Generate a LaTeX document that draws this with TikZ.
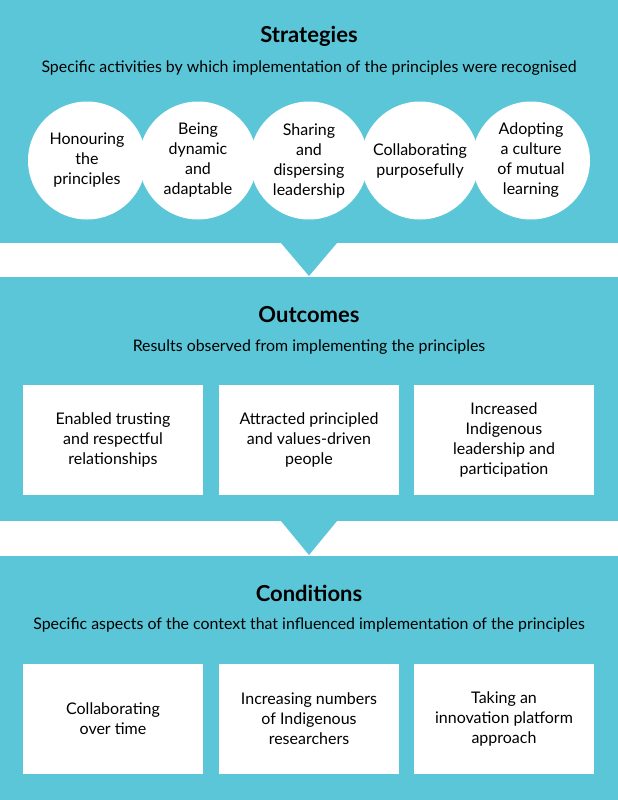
\documentclass[tikz,border=0pt]{standalone}
\usepackage{fontspec}
\setmainfont{Lato}
\usepackage{xcolor}

\definecolor{panelcyan}{HTML}{5BC6D8}

\tikzset{
  heading/.style={font=\fontsize{22}{26}\selectfont\bfseries, text=black},
  subline/.style={font=\fontsize{15.9}{19}\selectfont, text=black},
  bubble/.style={circle, fill=white, minimum size=118pt, inner sep=0pt, align=center,
    font=\fontsize{16}{20}\selectfont},
  card/.style={rectangle, fill=white, minimum width=180pt, minimum height=110pt, inner sep=0pt,
    align=center, font=\fontsize{16}{20}\selectfont},
}

\begin{document}
\begin{tikzpicture}[x=1pt, y=-1pt]

% Fondo
\fill[panelcyan] (0,0) rectangle (618,800);
\useasboundingbox (0,0) rectangle (618,800);

% Bandas blancas con flechas
\fill[white] (0,243) rectangle (618,277);
\fill[panelcyan] (281,243) -- (337,243) -- (309,276) -- cycle;
\fill[white] (0,521) rectangle (618,556);
\fill[panelcyan] (281,521) -- (337,521) -- (309,555) -- cycle;

% Estrategias
\node[heading] (StratTitle) at (309,36) {Strategies};
\node[subline] (StratSub) at (309,68) {Specific activities by which implementation of the principles were recognised};

\node[bubble] (Honour) at (87,160.5) {Honouring\\the\\principles};
\node[bubble] (Dynamic) at (198,160.5) {Being\\dynamic\\and\\adaptable};
\node[bubble] (Sharing) at (309,160.5) {Sharing\\and\\dispersing\\leadership};
\node[bubble] (Collab) at (420,160.5) {Collaborating\\purposefully};
\node[bubble] (Mutual) at (531,160.5) {Adopting\\a culture\\of mutual\\learning};

% Resultados
\node[heading] (OutTitle) at (309,315) {Outcomes};
\node[subline] (OutSub) at (309,347) {Results observed from implementing the principles};

\node[card] (Trust) at (113,440) {Enabled trusting\\and respectful\\relationships};
\node[card] (Values) at (309,440) {Attracted principled\\and values-driven\\people};
\node[card] (Lead) at (504,440) {Increased\\Indigenous\\leadership and\\participation};

% Condiciones
\node[heading] (CondTitle) at (309,593) {Conditions};
\node[subline] (CondSub) at (309,625) {Specific aspects of the context that influenced implementation of the principles};

\node[card] (Time) at (113,718.5) {Collaborating\\over time};
\node[card] (Research) at (309,718.5) {Increasing numbers\\of Indigenous\\researchers};
\node[card] (Platform) at (504,718.5) {Taking an\\innovation platform\\approach};

\end{tikzpicture}
\end{document}
